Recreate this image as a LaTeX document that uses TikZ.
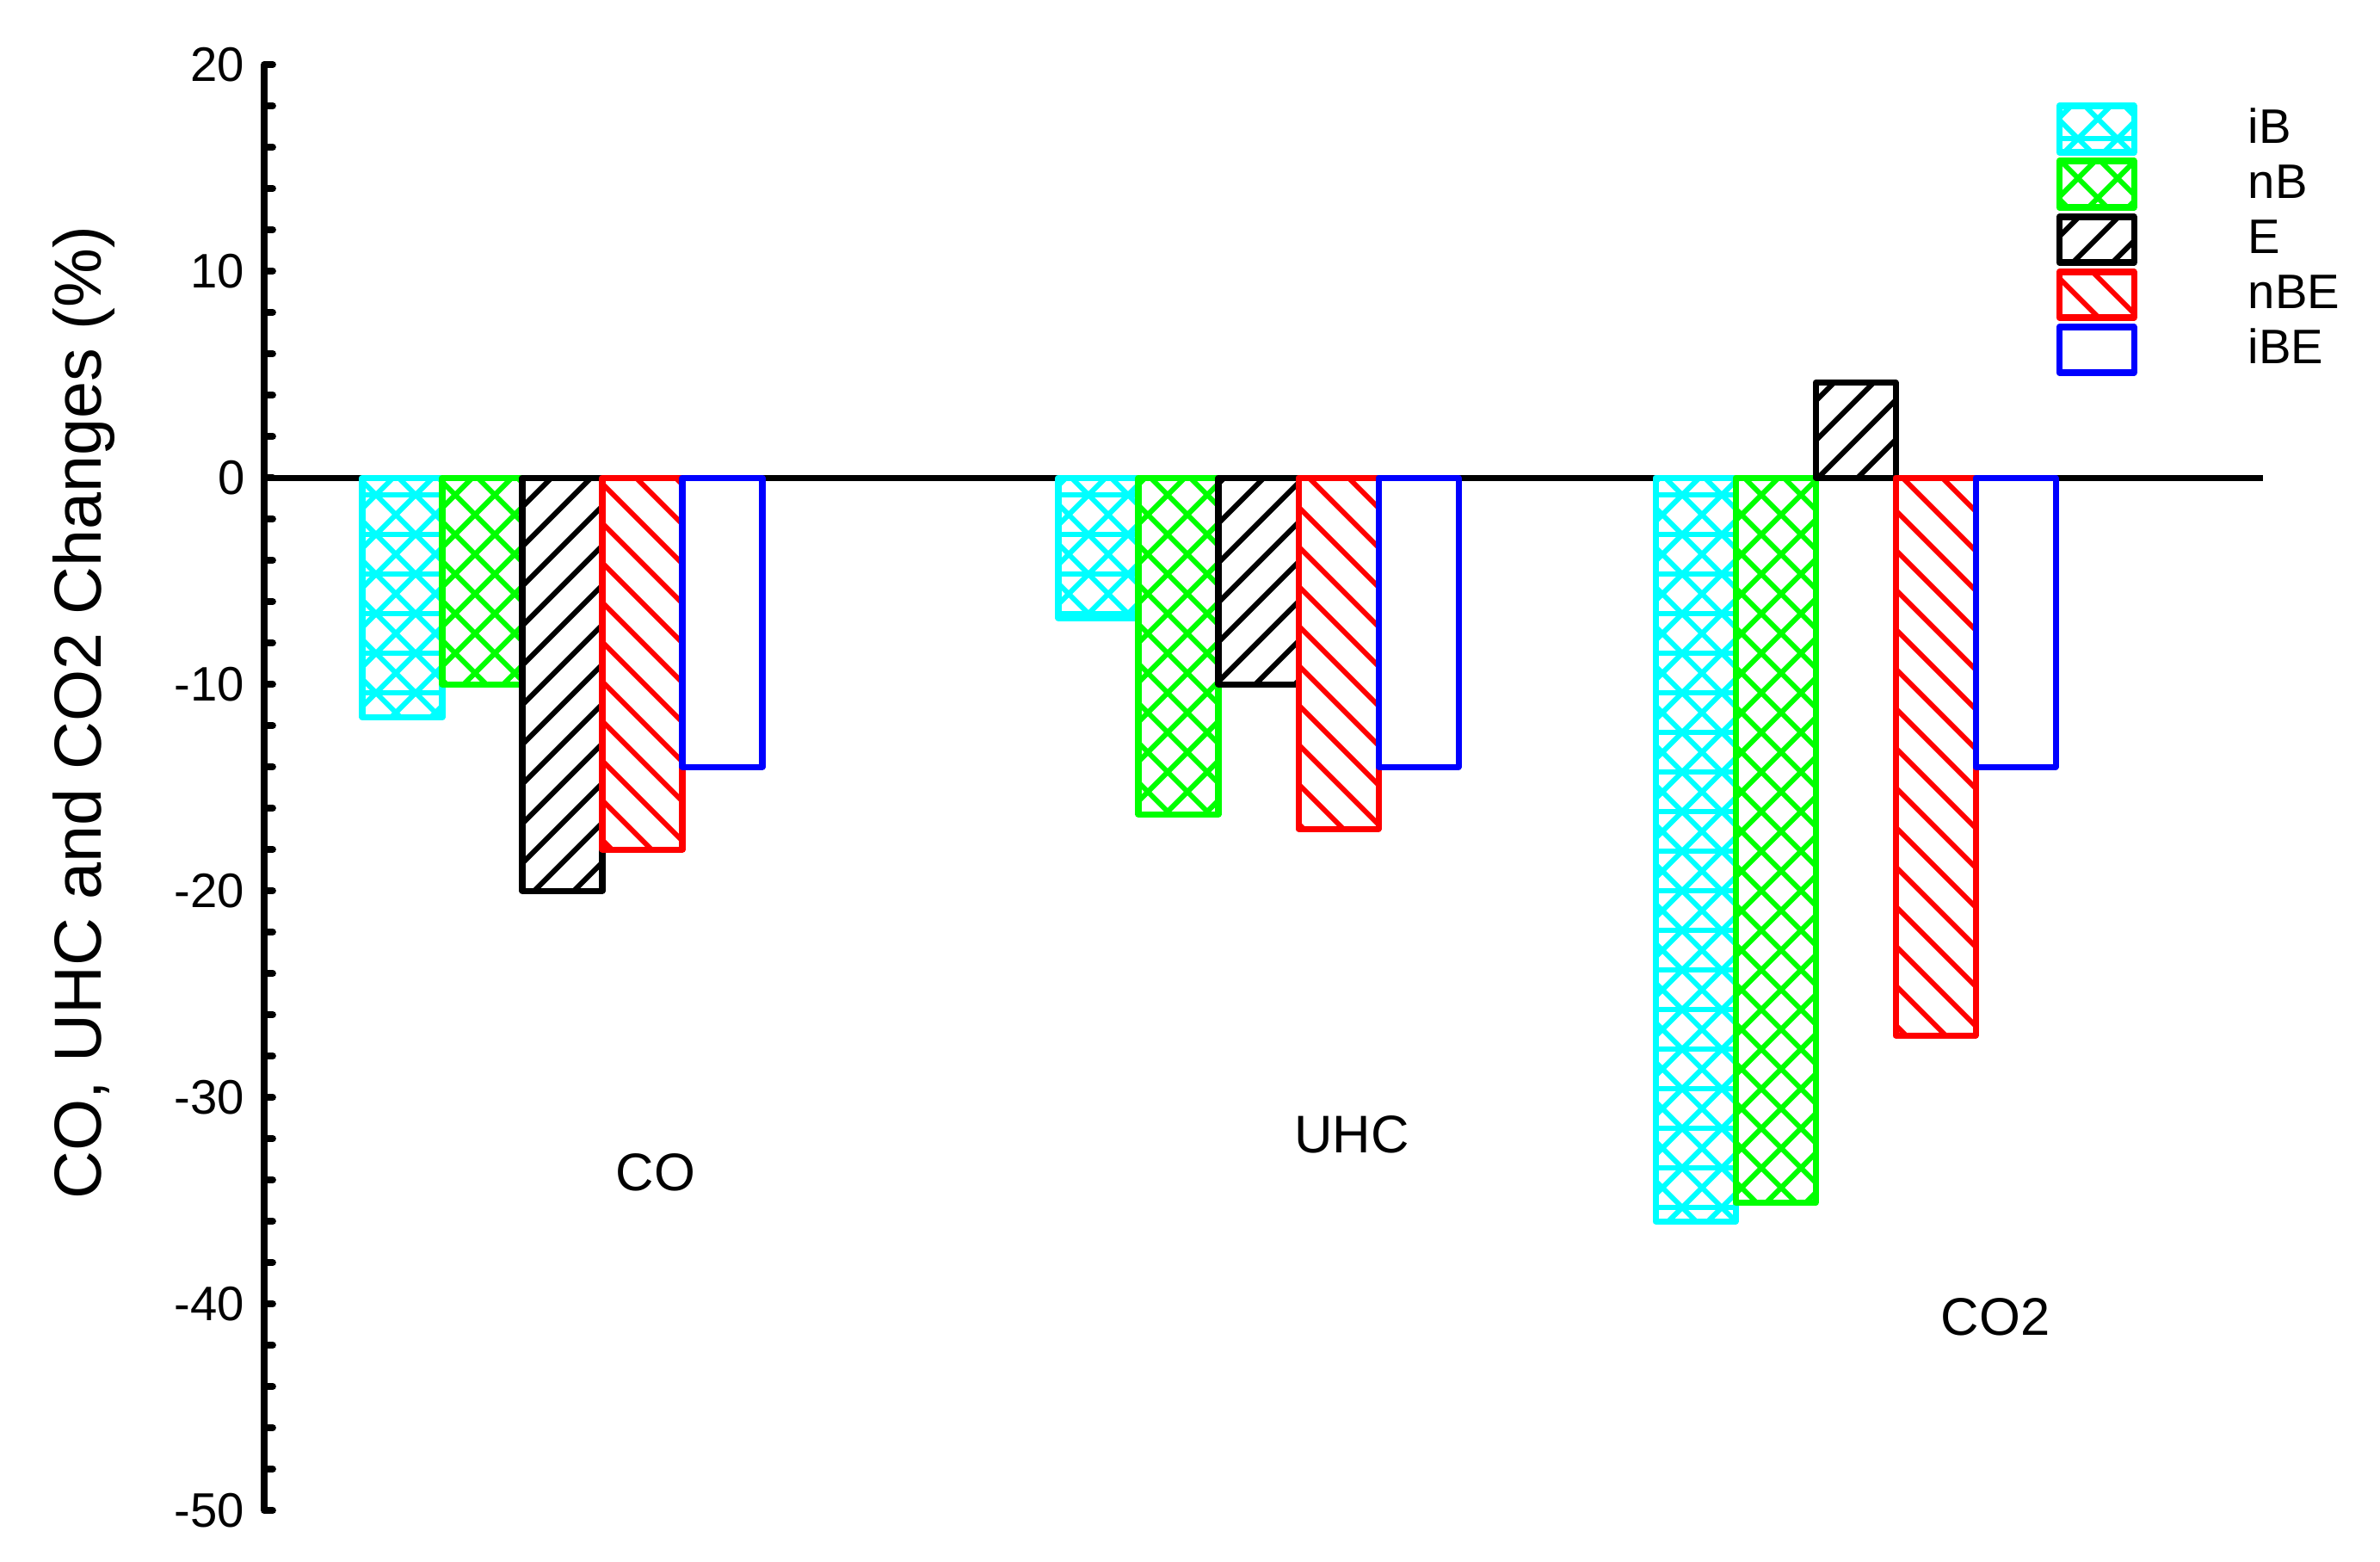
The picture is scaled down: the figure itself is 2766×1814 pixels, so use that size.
\documentclass[tikz,border=0pt]{standalone}
\usepackage{fontspec}
\setmainfont{Liberation Sans}
\definecolor{cy}{RGB}{0,255,255}
\definecolor{gr}{RGB}{0,255,0}
\definecolor{rd}{RGB}{255,0,0}
\definecolor{bl}{RGB}{0,0,255}
\newcommand\barbox[6]{%
 \begin{scope}
 \clip (#1,#2) rectangle (#3,#4);
 \ifcase#6\relax
 \or \hne{#1}{#2}{#3}{#4}{#5}%
 \or \hnw{#1}{#2}{#3}{#4}{#5}%
 \or \hne{#1}{#2}{#3}{#4}{#5}\hnw{#1}{#2}{#3}{#4}{#5}%
 \or \hne{#1}{#2}{#3}{#4}{#5}\hnw{#1}{#2}{#3}{#4}{#5}\hhz{#1}{#2}{#3}{#4}{#5}%
 \fi
 \end{scope}
 \draw[#5, frame] (#1,#2) rectangle (#3,#4);}
\newcommand\hne[5]{%
 \pgfmathsetmacro\cs{46*floor((#1+#2)/46)}\pgfmathsetmacro\cn{\cs+46}\pgfmathsetmacro\ce{#3+#4+46}%
 \foreach \c in {\cs,\cn,...,\ce} \draw[#5,hatch] ({#1-5},{\c-#1+5}) -- ({#3+5},{\c-#3-5});}
\newcommand\hnw[5]{%
 \pgfmathsetmacro\cs{46*floor((#1-#4)/46)}\pgfmathsetmacro\cn{\cs+46}\pgfmathsetmacro\ce{#3-#2+46}%
 \foreach \c in {\cs,\cn,...,\ce} \draw[#5,hatch] ({#1-5},{#1-\c-5}) -- ({#3+5},{#3-\c+5});}
\newcommand\hhz[5]{%
 \pgfmathsetmacro\cs{46*floor(#2/46)+23}\pgfmathsetmacro\cn{\cs+46}\pgfmathsetmacro\ce{#4+46}%
 \foreach \c in {\cs,\cn,...,\ce} \draw[#5,hatch] (#1,\c) -- (#3,\c);}
\begin{document}
\begin{tikzpicture}[x=0.01cm,y=-0.01cm,
  frame/.style={line width=2pt,line join=round},
  hatch/.style={line width=1.7pt},
  lab/.style={font=\fontsize{16}{19}\selectfont}]
\useasboundingbox (0,0) rectangle (2766,1814);
\def\W{93}
\newcommand\grp[6]{%
 \foreach \v [count=\i from 0] in {#2,#3,#4,#5,#6}{%
  \pgfmathsetmacro\xa{#1+\i*\W}\pgfmathsetmacro\xb{\xa+\W}%
  \pgfmathsetmacro\yv{555-24*\v}%
  \pgfmathsetmacro\yt{min(555,\yv)}\pgfmathsetmacro\yb{max(555,\yv)}%
  \ifcase\i\relax \barbox{\xa}{\yt}{\xb}{\yb}{cy}{4}%
  \or \barbox{\xa}{\yt}{\xb}{\yb}{gr}{3}%
  \or \barbox{\xa}{\yt}{\xb}{\yb}{black}{1}%
  \or \barbox{\xa}{\yt}{\xb}{\yb}{rd}{2}%
  \or \barbox{\xa}{\yt}{\xb}{\yb}{bl}{0}\fi}}
\coordinate (z0) at (307,555);
\coordinate (z1) at (2630,555);
\draw[line width=2pt] (z0) -- (z1);
\grp{421}{-11.6}{-10}{-20}{-18}{-14}
\grp{1230}{-6.8}{-16.3}{-10}{-17}{-14}
\grp{1924}{-36}{-35.1}{4.6}{-27}{-14}
% axis
\coordinate (at) at (307,75);
\coordinate (ab) at (307,1755);
\draw[line width=2.2pt] (at) -- (ab);
\foreach \k in {0,...,35} \draw[line width=2.2pt,line cap=round] (307,{75+48*\k}) -- (317,{75+48*\k});
\foreach \v [count=\i from 0] in {20,10,0,-10,-20,-30,-40,-50}
  \node[lab,anchor=east,inner sep=0pt] (t\i) at (285,{75+240*\i}) {\v};
\node[rotate=90,inner sep=0pt,font=\fontsize{22}{26}\selectfont] (ylab) at (97,828) {CO, UHC and CO2 Changes (\%)};
\node[inner sep=0pt,font=\fontsize{17.5}{20}\selectfont] (cCO) at (762,1362) {CO};
\node[inner sep=0pt,font=\fontsize{17.5}{20}\selectfont] (cUHC) at (1571,1318) {UHC};
\node[inner sep=0pt,font=\fontsize{17.5}{20}\selectfont] (cCO2) at (2319,1530) {CO2};
% legend
\barbox{2393}{123}{2480}{177}{cy}{4}
\barbox{2393}{187}{2480}{241}{gr}{3}
\barbox{2393}{252}{2480}{305}{black}{1}
\barbox{2393}{316}{2480}{369}{rd}{2}
\barbox{2393}{380}{2480}{433}{bl}{0}
\foreach \t [count=\i from 0] in {iB,nB,E,nBE,iBE}
  \node[lab,anchor=base west,inner sep=0pt] (l\i) at (2612,{166+64*\i}) {\t};
\end{tikzpicture}
\end{document}
